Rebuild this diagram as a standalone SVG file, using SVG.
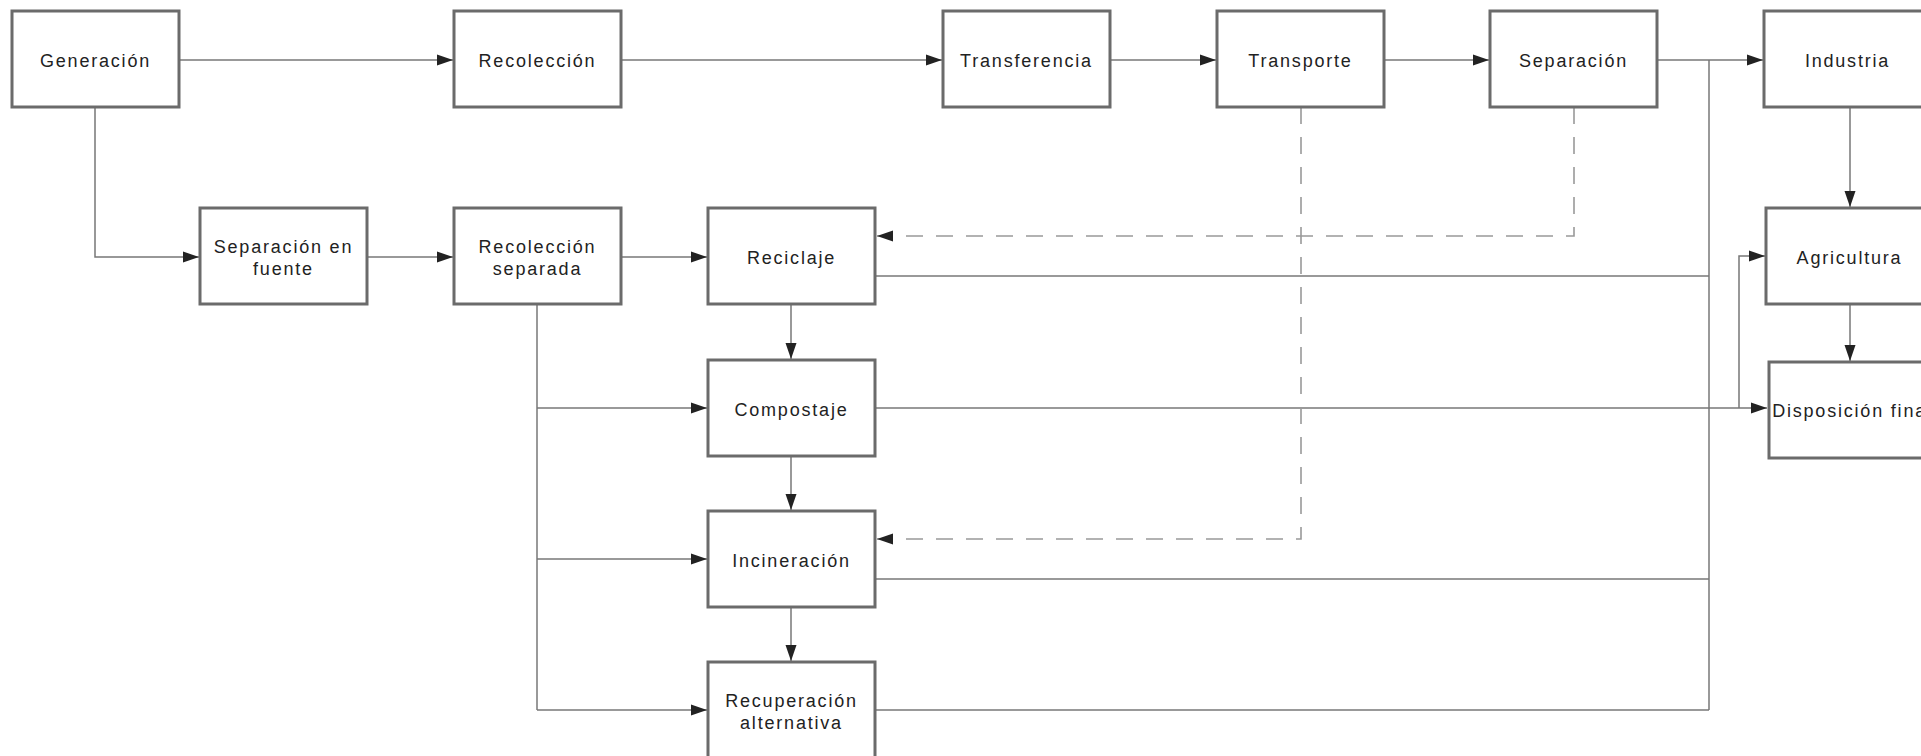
<svg xmlns="http://www.w3.org/2000/svg" width="1921" height="756" viewBox="0 0 1921 756">
<style>
.box{fill:#fff;stroke:#6b6b6b;stroke-width:3}
.lbl{font-family:"Liberation Sans",Arial,sans-serif;font-size:18px;letter-spacing:1.8px;fill:#222;text-anchor:middle}
.c{fill:none;stroke:#777;stroke-width:1.5}
.d{fill:none;stroke:#999;stroke-width:1.6;stroke-dasharray:17 13}
</style>
<defs>
<marker id="ah" markerUnits="userSpaceOnUse" markerWidth="17" markerHeight="12" refX="16" refY="6" orient="auto">
<path d="M0,0.5 L16,6 L0,11.5 z" fill="#222"/>
</marker>
</defs>
<rect width="1921" height="756" fill="#fff"/>
<g id="connectors">
<path class="c" d="M180,60 H453" marker-end="url(#ah)"/>
<path class="c" d="M621,60 H942" marker-end="url(#ah)"/>
<path class="c" d="M1110,60 H1216" marker-end="url(#ah)"/>
<path class="c" d="M1384,60 H1489" marker-end="url(#ah)"/>
<path class="c" d="M1658,60 H1763" marker-end="url(#ah)"/>
<path class="c" d="M95,107 V257 H199" marker-end="url(#ah)"/>
<path class="c" d="M367,257 H453" marker-end="url(#ah)"/>
<path class="c" d="M621,257 H707" marker-end="url(#ah)"/>
<path class="c" d="M537,304 V710"/>
<path class="c" d="M537,408 H707" marker-end="url(#ah)"/>
<path class="c" d="M537,559 H707" marker-end="url(#ah)"/>
<path class="c" d="M537,710 H707" marker-end="url(#ah)"/>
<path class="c" d="M791,304 V359" marker-end="url(#ah)"/>
<path class="c" d="M791,456 V510" marker-end="url(#ah)"/>
<path class="c" d="M791,607 V661" marker-end="url(#ah)"/>
<path class="c" d="M1709,60 V710"/>
<path class="c" d="M875,276 H1709"/>
<path class="c" d="M875,579 H1709"/>
<path class="c" d="M875,710 H1709"/>
<path class="c" d="M875,408 H1767" marker-end="url(#ah)"/>
<path class="c" d="M1739,408 V256 H1765" marker-end="url(#ah)"/>
<path class="c" d="M1850,107 V207" marker-end="url(#ah)"/>
<path class="c" d="M1850,304 V361" marker-end="url(#ah)"/>
<path class="d" d="M1574,107 V236 H877" marker-end="url(#ah)"/>
<path class="d" d="M1301,107 V539 H877" marker-end="url(#ah)"/>
</g>
<g id="n-generacion"><rect class="box" x="12" y="11" width="167" height="96"/><text class="lbl" x="95.5" y="66.5">Generación</text></g>
<g id="n-recoleccion"><rect class="box" x="454" y="11" width="167" height="96"/><text class="lbl" x="537.5" y="66.5">Recolección</text></g>
<g id="n-transferencia"><rect class="box" x="943" y="11" width="167" height="96"/><text class="lbl" x="1026.5" y="66.5">Transferencia</text></g>
<g id="n-transporte"><rect class="box" x="1217" y="11" width="167" height="96"/><text class="lbl" x="1300.5" y="66.5">Transporte</text></g>
<g id="n-separacion"><rect class="box" x="1490" y="11" width="167" height="96"/><text class="lbl" x="1573.5" y="66.5">Separación</text></g>
<g id="n-industria"><rect class="box" x="1764" y="11" width="167" height="96"/><text class="lbl" x="1847.5" y="66.5">Industria</text></g>
<g id="n-separacion-fuente"><rect class="box" x="200" y="208" width="167" height="96"/><text class="lbl" x="283.5" y="253">Separación en</text><text class="lbl" x="283.5" y="275">fuente</text></g>
<g id="n-recoleccion-separada"><rect class="box" x="454" y="208" width="167" height="96"/><text class="lbl" x="537.5" y="253">Recolección</text><text class="lbl" x="537.5" y="275">separada</text></g>
<g id="n-reciclaje"><rect class="box" x="708" y="208" width="167" height="96"/><text class="lbl" x="791.5" y="263.5">Reciclaje</text></g>
<g id="n-compostaje"><rect class="box" x="708" y="360" width="167" height="96"/><text class="lbl" x="791.5" y="415.5">Compostaje</text></g>
<g id="n-incineracion"><rect class="box" x="708" y="511" width="167" height="96"/><text class="lbl" x="791.5" y="566.5">Incineración</text></g>
<g id="n-recuperacion"><rect class="box" x="708" y="662" width="167" height="96"/><text class="lbl" x="791.5" y="707">Recuperación</text><text class="lbl" x="791.5" y="729">alternativa</text></g>
<g id="n-agricultura"><rect class="box" x="1766" y="208" width="167" height="96"/><text class="lbl" x="1849.5" y="263.5">Agricultura</text></g>
<g id="n-disposicion"><rect class="box" x="1769" y="362" width="167" height="96"/><text class="lbl" x="1852.5" y="416.5">Disposición final</text></g>
</svg>
